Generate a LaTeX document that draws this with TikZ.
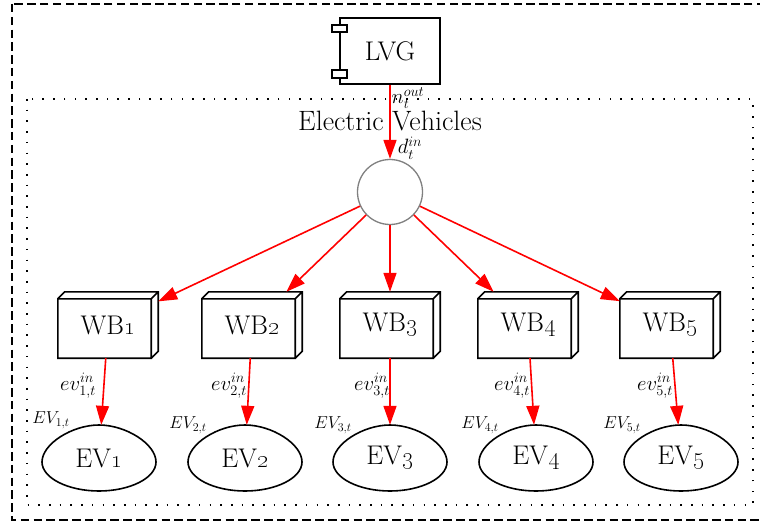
\documentclass[tikz,border=0pt]{standalone}
\usetikzlibrary{arrows.meta,calc,shapes.geometric}
\begin{document}
\begin{tikzpicture}[x=1pt,y=-1pt,
  boxline/.style={line width=1.6pt,black},
  redarrow/.style={line width=1.6pt,red,-{Triangle[length=19pt,width=13pt]}},
  mainfont/.style={font=\fontsize{27}{30}\selectfont},
  wbbox/.style={draw=none,rectangle,inner sep=0pt,minimum width=100pt,minimum height=66pt,mainfont},
  evnode/.style={draw=none,ellipse,inner sep=0pt,minimum width=114pt,minimum height=66pt,mainfont},
  evlab/.style={font=\fontsize{20}{22}\selectfont,inner sep=0pt},
  EVlab/.style={font=\fontsize{17.5}{19}\selectfont,inner sep=0pt},
]
\useasboundingbox (0,0) rectangle (760,524);
% outer clusters
\draw[line width=1.5pt,dash pattern=on 8.5pt off 4.3pt] (12,4) rectangle (775,520);
\draw[line width=1.8pt,dash pattern=on 1.6pt off 9.1pt,line cap=butt] (27,99) rectangle (753,505);
\node[font=\fontsize{28}{30}\selectfont,inner sep=0pt] (title) at (390,121) {Electric Vehicles};

% LVG component
\node[draw,boxline,rectangle,inner sep=0pt,minimum width=100pt,minimum height=66pt,mainfont] (lvg) at (390,51) {LVG};
\draw[boxline,fill=white] ($(lvg.north west)+(-7,8)$) rectangle ($(lvg.north west)+(8,15)$);
\draw[boxline,fill=white] ($(lvg.south west)+(-7,-15)$) rectangle ($(lvg.south west)+(8,-7)$);

% hub
\node[circle,draw=gray,line width=1.3pt,minimum size=65pt,inner sep=0pt] (c) at (390,192) {};

% wallboxes
\node[wbbox] (wb1) at (108,325) {WB\oldstylenums{1}};
\node[wbbox] (wb2) at (252,325) {WB\oldstylenums{2}};
\node[wbbox] (wb3) at (390,325) {WB\oldstylenums{3}};
\node[wbbox] (wb4) at (528,325) {WB\oldstylenums{4}};
\node[wbbox] (wb5) at (670,325) {WB\oldstylenums{5}};
\foreach \n in {wb1,wb2,wb3,wb4,wb5}{
  \draw[boxline,line join=miter]
    ($(\n.north west)+(0,7)$) rectangle ($(\n.south east)+(-7,0)$)
    ($(\n.north west)+(0,7)$) -- ($(\n.north west)+(7,0)$) -- (\n.north east)
      -- ($(\n.south east)+(0,-7)$) -- ($(\n.south east)+(-7,0)$)
    ($(\n.north east)+(-7,7)$) -- (\n.north east);
}

% EVs
\node[evnode] (ev1) at (99,458) {EV\oldstylenums{1}};
\node[evnode] (ev2) at (245,458) {EV\oldstylenums{2}};
\node[evnode] (ev3) at (390,458) {EV\oldstylenums{3}};
\node[evnode] (ev4) at (536,458) {EV\oldstylenums{4}};
\node[evnode] (ev5) at (681,458) {EV\oldstylenums{5}};
\foreach \n in {ev1,ev2,ev3,ev4,ev5}{
  \draw[boxline]
    ($(\n.center)+(-57,4)$) .. controls ($(\n.center)+(-57,-14)$) and ($(\n.center)+(-27,-33)$) .. ($(\n.center)+(0,-33)$)
    .. controls ($(\n.center)+(27,-33)$) and ($(\n.center)+(57,-14)$) .. ($(\n.center)+(57,4)$)
    .. controls ($(\n.center)+(57,20)$) and ($(\n.center)+(31,33)$) .. ($(\n.center)+(0,33)$)
    .. controls ($(\n.center)+(-31,33)$) and ($(\n.center)+(-57,20)$) .. cycle;
}

% edges
\draw[redarrow] (lvg) -- (c);
\node[evlab] (nout) at (408,98) {$n_t^{out}$};
\node[evlab] (din) at (410,148) {$d_t^{in}$};
\foreach \i in {1,...,5}{
  \draw[redarrow] (c) -- (wb\i);
  \draw[redarrow] (wb\i) -- (ev\i);
}
\node[evlab] (l1) at (78,386) {$ev_{1,t}^{in}$};
\node[evlab] (l2) at (229,386) {$ev_{2,t}^{in}$};
\node[evlab] (l3) at (372,386) {$ev_{3,t}^{in}$};
\node[evlab] (l4) at (512,386) {$ev_{4,t}^{in}$};
\node[evlab] (l5) at (655,386) {$ev_{5,t}^{in}$};
\node[EVlab] (m1) at (51,420) {$EV_{1,t}$};
\node[EVlab] (m2) at (188,425) {$EV_{2,t}$};
\node[EVlab] (m3) at (333,425) {$EV_{3,t}$};
\node[EVlab] (m4) at (480,425) {$EV_{4,t}$};
\node[EVlab] (m5) at (622,425) {$EV_{5,t}$};
\end{tikzpicture}
\end{document}
